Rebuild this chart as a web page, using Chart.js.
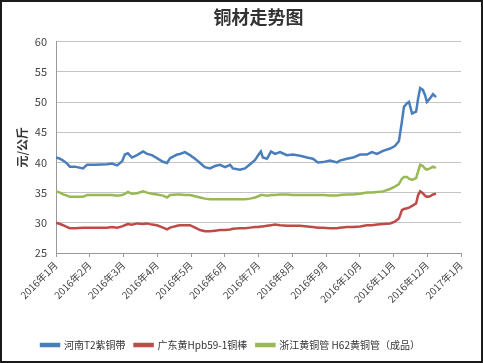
<!DOCTYPE html>
<html>
<head>
<meta charset="utf-8">
<script src="https://cdn.jsdelivr.net/npm/chart.js@4/dist/chart.umd.min.js"></script>
<style>
  html, body { margin: 0; padding: 0; background: #fff; }
  #wrap { width: 483px; height: 363px; position: relative; }
</style>
</head>
<body>
<div id="wrap"><canvas id="c" width="483" height="363"></canvas></div>
<script>
// ---- data ----
const chartTitle = '铜材走势图';
const yTitle = '元/公斤';
const monthLabels = ['2016年1月','2016年2月','2016年3月','2016年4月','2016年5月','2016年6月','2016年7月','2016年8月','2016年9月','2016年10月','2016年11月','2016年12月','2017年1月'];
const seriesNames = ['河南T2紫铜带', '广东黄Hpb59-1铜棒', '浙江黄铜管 H62黄铜管（成品）'];
// time position, in months from 2016-01-01
const monthPos = [0,0.12,0.21,0.33,0.41,0.56,0.80,0.92,1.16,1.51,1.66,1.81,1.96,2.04,2.13,2.25,2.40,2.58,2.70,2.84,2.99,3.17,3.29,3.38,3.59,3.67,3.82,3.97,4.12,4.27,4.41,4.56,4.71,4.86,5.01,5.16,5.24,5.45,5.60,5.75,5.90,5.99,6.07,6.13,6.25,6.37,6.49,6.64,6.84,7.02,7.23,7.44,7.61,7.76,7.91,8.12,8.33,8.41,8.62,8.80,9.01,9.21,9.36,9.51,9.69,9.90,10.04,10.16,10.25,10.31,10.40,10.46,10.55,10.67,10.73,10.79,10.87,10.93,10.99,11.08,11.17,11.26];
const henanT2 = [40.8,40.6,40.3,39.8,39.3,39.3,39.0,39.6,39.6,39.7,39.8,39.5,40.2,41.3,41.5,40.8,41.2,41.8,41.4,41.2,40.7,40.1,39.9,40.7,41.3,41.4,41.7,41.2,40.6,39.9,39.2,39.0,39.4,39.6,39.2,39.6,39.0,38.8,39.0,39.7,40.4,41.2,41.8,40.8,40.6,41.8,41.4,41.7,41.2,41.3,41.1,40.8,40.6,40.0,40.05,40.3,40.0,40.3,40.6,40.8,41.3,41.3,41.7,41.4,41.9,42.3,42.7,43.5,46.8,49.2,49.8,50.0,48.1,48.4,50.6,52.3,52.0,51.2,50.0,50.6,51.3,50.8];
const guangdongHpb = [30.0,29.8,29.6,29.3,29.1,29.1,29.2,29.2,29.2,29.2,29.3,29.2,29.4,29.6,29.8,29.7,29.9,29.8,29.9,29.7,29.6,29.2,28.9,29.2,29.5,29.6,29.6,29.6,29.2,28.8,28.6,28.6,28.7,28.8,28.8,28.9,29.0,29.1,29.1,29.2,29.3,29.3,29.4,29.4,29.5,29.6,29.7,29.6,29.5,29.5,29.5,29.4,29.3,29.2,29.2,29.1,29.1,29.2,29.3,29.3,29.4,29.6,29.6,29.7,29.8,29.9,30.2,30.7,32.1,32.3,32.4,32.5,32.8,33.2,34.6,35.2,34.9,34.5,34.3,34.4,34.7,34.8];
const zhejiangH62 = [35.2,35.0,34.7,34.5,34.3,34.3,34.3,34.6,34.6,34.6,34.6,34.5,34.6,34.8,35.1,34.8,34.9,35.2,35.0,34.8,34.7,34.5,34.2,34.6,34.7,34.7,34.6,34.6,34.4,34.2,34.0,33.9,33.9,33.9,33.9,33.9,33.9,33.9,33.9,34.0,34.2,34.4,34.6,34.6,34.5,34.6,34.6,34.7,34.7,34.6,34.6,34.6,34.6,34.6,34.6,34.5,34.5,34.6,34.7,34.7,34.8,35.0,35.0,35.1,35.2,35.6,36.0,36.4,37.3,37.6,37.6,37.3,37.1,37.4,38.5,39.6,39.4,39.0,38.8,39.0,39.3,39.1];
const yTicks = [25,30,35,40,45,50,55,60];

const colors = ['#4a7ebb', '#be4b48', '#98b954'];
const FONT = '"Noto Sans CJK SC", "Noto Sans", sans-serif';

function pts(arr) { return arr.map((v, i) => ({ x: monthPos[i], y: v })); }

const borderPlugin = {
  id: 'frame',
  beforeDraw(chart) {
    const ctx = chart.ctx;
    ctx.save();
    ctx.fillStyle = '#ffffff';
    ctx.fillRect(0, 0, chart.width, chart.height);
    ctx.restore();
  },
  afterDraw(chart) {
    const ctx = chart.ctx;
    ctx.save();
    ctx.strokeStyle = '#1a1a1a';
    ctx.lineWidth = 2;
    ctx.strokeRect(1, 1, chart.width - 2, chart.height - 2);
    ctx.restore();
  }
};

new Chart(document.getElementById('c'), {
  type: 'line',
  data: {
    datasets: [henanT2, guangdongHpb, zhejiangH62].map((arr, i) => ({
      label: seriesNames[i],
      data: pts(arr),
      borderColor: colors[i],
      backgroundColor: colors[i],
      borderWidth: 2.5,
      pointRadius: 0,
      tension: 0,
      fill: false
    }))
  },
  options: {
    responsive: false,
    animation: false,
    devicePixelRatio: 1,
    layout: { padding: { left: 0, right: 22, top: 0, bottom: 3 } },
    plugins: {
      title: {
        display: true,
        fullSize: false,
        text: chartTitle,
        color: '#333',
        font: { family: FONT, size: 18, weight: 'bold' },
        padding: { top: 6, bottom: 14 }
      },
      legend: {
        position: 'bottom',
        labels: {
          boxWidth: 18,
          boxHeight: 2,
          padding: 9,
          color: '#333',
          font: { family: FONT, size: 10 }
        }
      },
      tooltip: { enabled: false }
    },
    scales: {
      x: {
        type: 'linear',
        min: 0,
        max: 12,
        afterBuildTicks(scale) { scale.ticks = monthLabels.map((_, i) => ({ value: i })); },
        afterFit(scale) { scale.height = 78; },
        ticks: {
          autoSkip: false,
          maxRotation: 45,
          minRotation: 45,
          color: '#444',
          font: { family: FONT, size: 10 },
          padding: 2,
          callback: (v) => monthLabels[v]
        },
        grid: { display: true, drawOnChartArea: false, color: '#999', tickLength: 4 },
        border: { color: '#999', width: 1 }
      },
      y: {
        min: 25,
        max: 60,
        afterBuildTicks(scale) { scale.ticks = yTicks.map(v => ({ value: v })); },
        afterFit(scale) { scale.width = 56; },
        title: {
          display: true,
          text: yTitle,
          color: '#333',
          font: { family: FONT, size: 12, weight: 'bold' },
          padding: { top: 15, bottom: 0 }
        },
        ticks: {
          color: '#444',
          font: { family: FONT, size: 11 },
          padding: 9
        },
        grid: { color: '#c4c4c4', lineWidth: 1, drawTicks: false },
        border: { color: '#999', width: 1 }
      }
    }
  },
  plugins: [borderPlugin]
});
</script>
</body>
</html>
